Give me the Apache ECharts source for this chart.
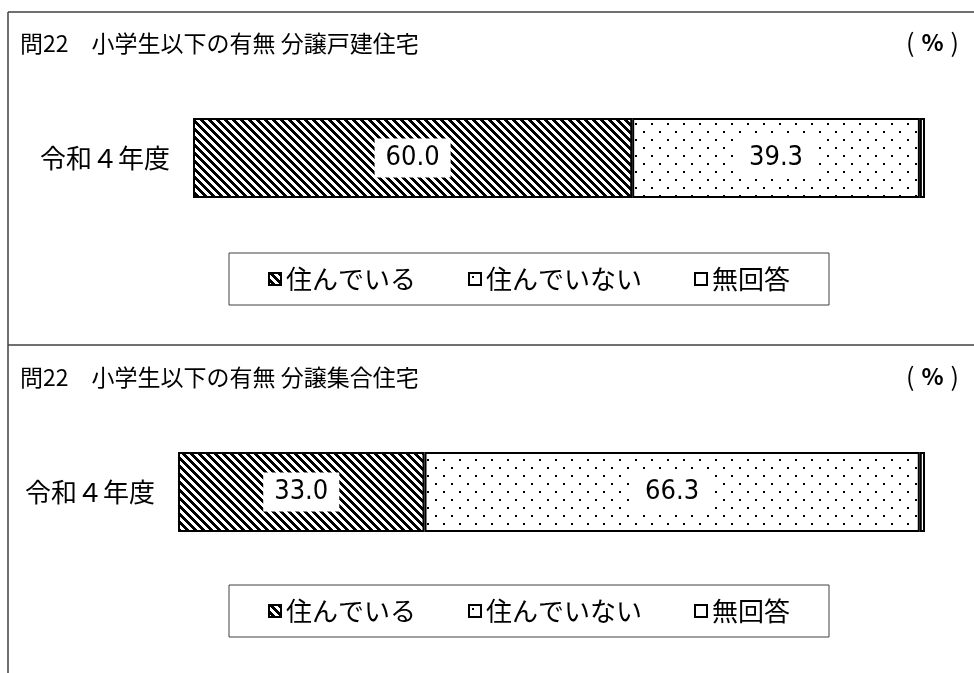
<!DOCTYPE html>
<html>
<head>
<meta charset="utf-8">
<script src="https://cdn.jsdelivr.net/npm/echarts@6/dist/echarts.min.js"></script>
<style>
  html, body { margin: 0; padding: 0; background: #fff; }
  #chart { width: 974px; height: 673px; }
</style>
</head>
<body>
<div id="chart"></div>
<script>
  // 問22 小学生以下の有無
  const categories = ['令和４年度'];
  const seriesNames = ['住んでいる', '住んでいない', '無回答'];
  const detachedValues = [60.0, 39.3, 0.7]; // 分譲戸建住宅
  const condoValues = [33.0, 66.3, 0.7]; // 分譲集合住宅
  const panelTitles = ['問22　小学生以下の有無 分譲戸建住宅', '問22　小学生以下の有無 分譲集合住宅'];

  const JP = "'Noto Sans CJK JP', sans-serif";
  const NUM = "'Liberation Sans Narrow', 'DejaVu Sans Condensed', sans-serif";

  function stripeTile() {
    const n = 8;
    const c = document.createElement('canvas');
    c.width = n;
    c.height = n;
    const ctx = c.getContext('2d');
    const img = ctx.createImageData(n, n);
    for (let y = 0; y < n; y++) {
      for (let x = 0; x < n; x++) {
        const v = ((x - y + 2 * n) % n) < 4 ? 0 : 255;
        const i = (y * n + x) * 4;
        img.data[i] = v;
        img.data[i + 1] = v;
        img.data[i + 2] = v;
        img.data[i + 3] = 255;
      }
    }
    ctx.putImageData(img, 0, 0);
    return c;
  }

  function dotTile() {
    const c = document.createElement('canvas');
    c.width = 16;
    c.height = 16;
    const ctx = c.getContext('2d');
    ctx.fillStyle = '#fff';
    ctx.fillRect(0, 0, 16, 16);
    ctx.fillStyle = '#000';
    ctx.fillRect(3, 3, 2, 2);
    ctx.fillRect(11, 11, 2, 2);
    return c;
  }

  const fills = [
    { image: stripeTile(), repeat: 'repeat' },
    { image: dotTile(), repeat: 'repeat' },
    '#fff',
  ];

  const panels = [
    { values: detachedValues, gridLeft: 193, gridTop: 118, titleTop: 32, boxTop: 253 },
    { values: condoValues, gridLeft: 178, gridTop: 452, titleTop: 366, boxTop: 585 },
  ];

  const titles = [];
  const grids = [];
  const xAxes = [];
  const yAxes = [];
  const legends = [];
  const series = [];
  const boxes = [];

  panels.forEach((p, pi) => {
    titles.push({
      text: panelTitles[pi],
      left: 20,
      top: p.titleTop,
      padding: 0,
      textStyle: { fontSize: 23, fontWeight: 'normal', color: '#000', fontFamily: JP },
    });
    titles.push({
      text: '({b|%})',
      left: 906,
      top: p.titleTop - 2,
      padding: 0,
      textStyle: {
        fontSize: 25, fontWeight: 'normal', color: '#000', fontFamily: JP,
        rich: { b: { fontSize: 23, fontWeight: 'bold', fontFamily: JP, padding: [0, 7] } },
      },
    });
    grids.push({ left: p.gridLeft, right: 49, top: p.gridTop, height: 80 });
    xAxes.push({ gridIndex: pi, type: 'value', min: 0, max: 100, show: false });
    yAxes.push({
      gridIndex: pi,
      type: 'category',
      data: categories,
      axisLine: { show: false },
      axisTick: { show: false },
      axisLabel: { fontSize: 26, color: '#000', margin: 23, fontFamily: JP },
    });
    legends.push({
      data: seriesNames,
      left: 268,
      top: p.boxTop + 13,
      padding: 0,
      itemGap: 52,
      itemWidth: 12,
      itemHeight: 12,
      icon: 'rect',
      itemStyle: { borderColor: '#000', borderWidth: 2 },
      textStyle: { fontSize: 26, color: '#000', fontFamily: JP, padding: [0, 0, 0, 0] },
    });
    boxes.push({
      type: 'rect',
      shape: { x: 229, y: p.boxTop, width: 600, height: 52 },
      style: { fill: 'none', stroke: '#404040', lineWidth: 1 },
    });
    seriesNames.forEach((name, si) => {
      series.push({
        name: name,
        type: 'bar',
        stack: 'panel' + pi,
        xAxisIndex: pi,
        yAxisIndex: pi,
        barWidth: 80,
        data: [p.values[si]],
        itemStyle: { color: fills[si], borderColor: '#000', borderWidth: 2 },
        label: {
          show: si < 2,
          position: 'inside',
          formatter: (d) => d.value.toFixed(1),
          backgroundColor: '#fff',
          padding: [7, 11, 5, 11],
          fontSize: 27,
          color: '#000',
          fontFamily: NUM,
        },
      });
    });
  });

  const chart = echarts.init(document.getElementById('chart'));
  chart.setOption({
    animation: false,
    backgroundColor: '#fff',
    title: titles,
    grid: grids,
    xAxis: xAxes,
    yAxis: yAxes,
    legend: legends,
    series: series,
    graphic: boxes.concat([
      { type: 'line', shape: { x1: 8, y1: 12, x2: 974, y2: 12 }, style: { stroke: '#404040', lineWidth: 1.5 } },
      { type: 'line', shape: { x1: 8, y1: 345, x2: 974, y2: 345 }, style: { stroke: '#404040', lineWidth: 1.5 } },
      { type: 'line', shape: { x1: 8, y1: 12, x2: 8, y2: 673 }, style: { stroke: '#404040', lineWidth: 1.5 } },
    ]),
  });
</script>
</body>
</html>
